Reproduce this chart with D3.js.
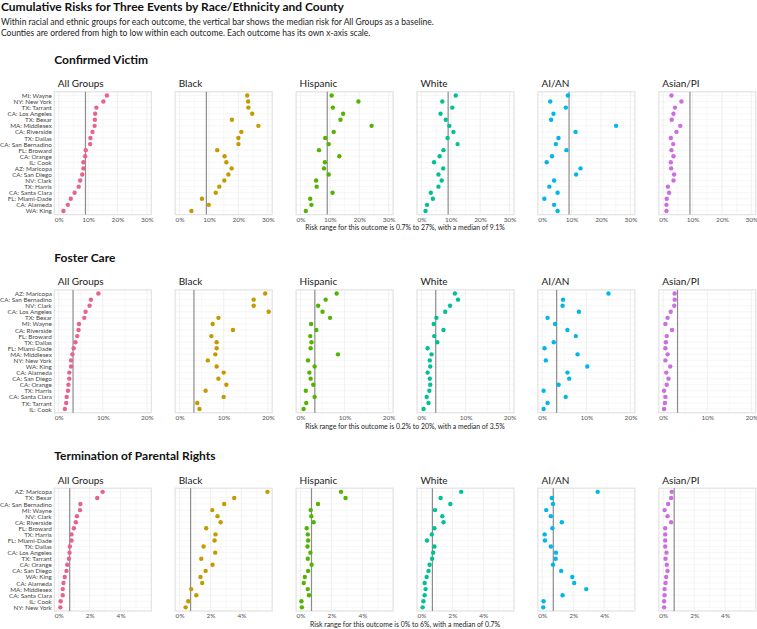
<!DOCTYPE html>
<html><head><meta charset="utf-8">
<script src="https://cdn.jsdelivr.net/npm/d3@7"></script>
<style>body{margin:0;background:#fff} svg{display:block}</style>
</head><body>
<script>
// ---------------- DATA ----------------
const groups = ["All Groups","Black","Hispanic","White","AI/AN","Asian/PI"];
const groupColors = ["#E7638B","#C49A00","#53B400","#00C094","#00B6EB","#CC6EE0"];
const outcomes = ["Confirmed Victim","Foster Care","Termination of Parental Rights"];
const captions = [
  "Risk range for this outcome is 0.7% to 27%, with a median of 9.1%",
  "Risk range for this outcome is 0.2% to 20%, with a median of 3.5%",
  "Risk range for this outcome is 0% to 6%, with a median of 0.7%"
];

const victimCounties = ["MI: Wayne","NY: New York","TX: Tarrant","CA: Los Angeles","TX: Bexar","MA: Middlesex","CA: Riverside","TX: Dallas","CA: San Bernadino","FL: Broward","CA: Orange","IL: Cook","AZ: Maricopa","CA: San Diego","NV: Clark","TX: Harris","CA: Santa Clara","FL: Miami-Dade","CA: Alameda","WA: King"];
const victimAllGroups = [16.4,15.2,12.8,12.4,12.3,12.2,11.5,10.8,10.7,9.2,9.0,8.4,8.4,8.0,7.3,6.8,5.4,4.1,3.1,1.6];
const victimBlack     = [23.0,23.3,23.4,24.7,17.8,26.8,21.0,20.0,20.0,12.8,15.3,15.9,17.7,16.6,15.2,13.5,12.3,7.6,9.9,4.0];
const victimHispanic  = [10.6,19.7,11.0,14.5,13.6,24.2,11.3,8.4,9.6,6.3,13.2,8.3,8.0,9.6,5.3,5.5,10.9,3.3,3.7,1.8];
const victimWhite     = [11.7,7.1,10.5,6.5,8.3,9.5,10.9,8.9,12.3,7.5,6.2,4.3,7.4,5.8,6.9,5.8,3.2,3.9,1.9,1.4];
const victimAIAN      = [8.7,2.7,8.0,3.8,3.0,25.1,11.3,5.5,4.6,8.2,3.3,1.5,13.0,11.5,4.0,2.4,5.2,0.7,4.0,5.2];
const victimAsianPI   = [2.8,6.2,4.0,3.5,2.9,5.8,4.5,2.6,3.4,2.8,3.5,2.6,2.7,3.7,3.5,1.6,2.0,1.2,1.1,1.1];

const fosterCounties = ["AZ: Maricopa","CA: San Bernadino","NV: Clark","CA: Los Angeles","TX: Bexar","MI: Wayne","CA: Riverside","FL: Broward","TX: Dallas","FL: Miami-Dade","MA: Middlesex","NY: New York","WA: King","CA: Alameda","CA: San Diego","CA: Orange","TX: Harris","CA: Santa Clara","TX: Tarrant","IL: Cook"];
const fosterAllGroups = [9.0,7.3,7.0,6.1,5.8,4.6,4.5,4.2,3.8,3.4,3.1,2.8,2.8,2.4,2.4,2.2,2.1,1.8,1.7,1.4];
const fosterBlack     = [19.4,16.8,16.8,20.2,8.8,7.5,12.1,7.2,8.4,8.4,8.1,6.4,8.4,10.0,8.8,10.6,5.9,10.0,4.0,4.5];
const fosterHispanic  = [8.2,5.7,4.0,5.0,6.7,2.4,3.6,2.2,2.5,2.3,8.5,1.7,3.2,2.0,2.3,2.9,1.2,3.2,1.3,0.7];
const fosterWhite     = [7.6,8.3,6.5,5.4,3.4,2.8,5.0,2.9,3.6,1.4,2.3,1.9,2.0,1.4,1.9,2.0,1.8,1.2,1.6,0.5];
const fosterAIAN      = [15.0,4.7,4.6,8.3,1.2,2.9,5.7,7.6,2.6,0.5,8.0,0.8,10.2,5.7,6.1,3.7,0.3,5.3,1.2,0.3];
const fosterAsianPI   = [2.6,2.6,2.5,1.7,1.0,0.5,2.0,0.8,0.6,0.5,1.0,0.5,1.6,0.7,1.2,0.8,0.2,0.5,0.4,0.2];

const tprCounties = ["AZ: Maricopa","TX: Bexar","CA: San Bernadino","MI: Wayne","NV: Clark","CA: Riverside","FL: Broward","TX: Harris","FL: Miami-Dade","TX: Dallas","CA: Los Angeles","TX: Tarrant","CA: Orange","CA: San Diego","WA: King","CA: Alameda","MA: Middlesex","CA: Santa Clara","IL: Cook","NY: New York"];
const tprAllGroups = [2.84,2.49,1.40,1.38,1.18,1.11,0.98,0.83,0.83,0.72,0.70,0.66,0.55,0.50,0.39,0.31,0.26,0.26,0.13,0.11];
const tprBlack     = [5.68,3.53,2.88,2.11,2.45,2.65,1.72,2.32,2.26,1.55,2.30,1.40,2.13,1.68,1.35,1.46,0.75,1.08,0.56,0.39];
const tprHispanic  = [2.62,2.91,1.13,0.66,0.70,0.85,0.40,0.47,0.49,0.45,0.64,0.47,0.72,0.49,0.28,0.21,0.47,0.55,0.06,0.09];
const tprWhite     = [2.57,1.24,1.87,0.88,1.35,1.43,0.84,0.67,0.36,0.84,0.76,0.69,0.53,0.46,0.34,0.21,0.27,0.21,0.13,0.08];
const tprAIAN      = [3.58,0.61,0.69,0.25,0.55,1.26,0.65,0.15,0.17,0.55,0.88,0.86,0.69,1.22,1.94,2.06,2.84,1.31,0.08,0.06];
const tprAsianPI   = [0.55,0.51,0.32,0.09,0.28,0.51,0.13,0.13,0.13,0.13,0.21,0.15,0.23,0.28,0.19,0.15,0.09,0.09,0.06,0.06];

const axisLimits = [[0,30],[0,20],[0,5.7]];
const majorTicks = [[0,10,20,30],[0,10,20],[0,2,4]];
const minorTicks = [[5,15,25],[5,15],[1,3,5]];

// ---------------- LAYOUT ----------------
const W = 757, H = 629;
const FONT = "Lato, 'Open Sans', sans-serif";
const sections = [
  {counties: victimCounties, series: [victimAllGroups,victimBlack,victimHispanic,victimWhite,victimAIAN,victimAsianPI]},
  {counties: fosterCounties, series: [fosterAllGroups,fosterBlack,fosterHispanic,fosterWhite,fosterAIAN,fosterAsianPI]},
  {counties: tprCounties,    series: [tprAllGroups,tprBlack,tprHispanic,tprWhite,tprAIAN,tprAsianPI]}
];
const panelLeft0 = 54.3, panelStep = 120.9, panelW = 97.0;
const panelTops = [91.8, 289.9, 488.2], panelH = 122.8;

const svg = d3.select("body").append("svg").attr("width", W).attr("height", H)
  .style("font-family", FONT);

svg.append("text").attr("x", 1).attr("y", 10.8).attr("font-size", 12).attr("font-weight", 700)
  .attr("fill", "#111").text("Cumulative Risks for Three Events by Race/Ethnicity and County");
svg.append("text").attr("x", 1).attr("y", 24.5).attr("font-size", 8.5).attr("fill", "#222")
  .text("Within racial and ethnic groups for each outcome, the vertical bar shows the median risk for All Groups as a baseline.");
svg.append("text").attr("x", 1).attr("y", 35.5).attr("font-size", 8.5).attr("fill", "#222")
  .text("Counties are ordered from high to low within each outcome. Each outcome has its own x-axis scale.");

sections.forEach((sec, si) => {
  const top = panelTops[si];
  const g = svg.append("g");
  g.append("text").attr("x", panelLeft0).attr("y", top - 28).attr("font-size", 12).attr("font-weight", 700)
    .attr("fill", "#111").text(outcomes[si]);

  const lim = axisLimits[si];
  const pad = (lim[1] - lim[0]) * 0.05;
  const y = d3.scalePoint().domain(sec.counties).range([top, top + panelH]).padding(0.6);
  const med = d3.median(sec.series[0]);

  groups.forEach((grp, gi) => {
    const left = panelLeft0 + gi * panelStep;
    const x = d3.scaleLinear().domain([lim[0] - pad, lim[1] + pad]).range([left, left + panelW]);
    const p = g.append("g");
    // title
    p.append("text").attr("x", left + 3.5).attr("y", top - 4.5).attr("font-size", 10)
      .attr("fill", "#1a1a1a").text(grp);
    // grid
    p.selectAll(".mn").data(minorTicks[si]).join("line")
      .attr("x1", d => x(d)).attr("x2", d => x(d)).attr("y1", top).attr("y2", top + panelH)
      .attr("stroke", "#f4f4f4").attr("stroke-width", 0.6);
    p.selectAll(".mj").data(majorTicks[si]).join("line")
      .attr("x1", d => x(d)).attr("x2", d => x(d)).attr("y1", top).attr("y2", top + panelH)
      .attr("stroke", "#ececec").attr("stroke-width", 0.8);
    p.selectAll(".hr").data(sec.counties).join("line")
      .attr("x1", left).attr("x2", left + panelW).attr("y1", d => y(d)).attr("y2", d => y(d))
      .attr("stroke", "#f0f0f0").attr("stroke-width", 0.6);
    p.append("rect").attr("x", left).attr("y", top).attr("width", panelW).attr("height", panelH)
      .attr("fill", "none").attr("stroke", "#e4e4e4").attr("stroke-width", 1.3);
    // median bar
    p.append("line").attr("x1", x(med)).attr("x2", x(med)).attr("y1", top).attr("y2", top + panelH)
      .attr("stroke", "#8c8c8c").attr("stroke-width", 1.2);
    // x axis
    const ax = p.append("g").attr("transform", `translate(0,${top + panelH})`)
      .call(d3.axisBottom(x).tickValues(majorTicks[si]).tickSize(0).tickPadding(2.3).tickFormat(d => d + "%"));
    ax.select(".domain").remove();
    ax.selectAll("text").attr("font-size", 6.5).attr("fill", "#555").attr("font-family", FONT);
    // dots
    p.selectAll("circle").data(sec.series[gi]).join("circle")
      .attr("cx", d => x(d)).attr("cy", (d, i) => y(sec.counties[i])).attr("r", 2.2)
      .attr("fill", groupColors[gi]);
    // county labels
    if (gi === 0) {
      const ay = p.append("g").attr("transform", `translate(${left},0)`)
        .call(d3.axisLeft(y).tickSize(0).tickPadding(2.5));
      ay.select(".domain").remove();
      ay.selectAll("text").attr("font-size", 6.3).attr("fill", "#444").attr("font-family", FONT);
    }
  });
  g.append("text").attr("x", panelLeft0 + (5 * panelStep + panelW) / 2).attr("y", top + panelH + 15.8)
    .attr("text-anchor", "middle").attr("font-size", 6.9).attr("fill", "#222").text(captions[si]);
});
</script>
</body></html>
